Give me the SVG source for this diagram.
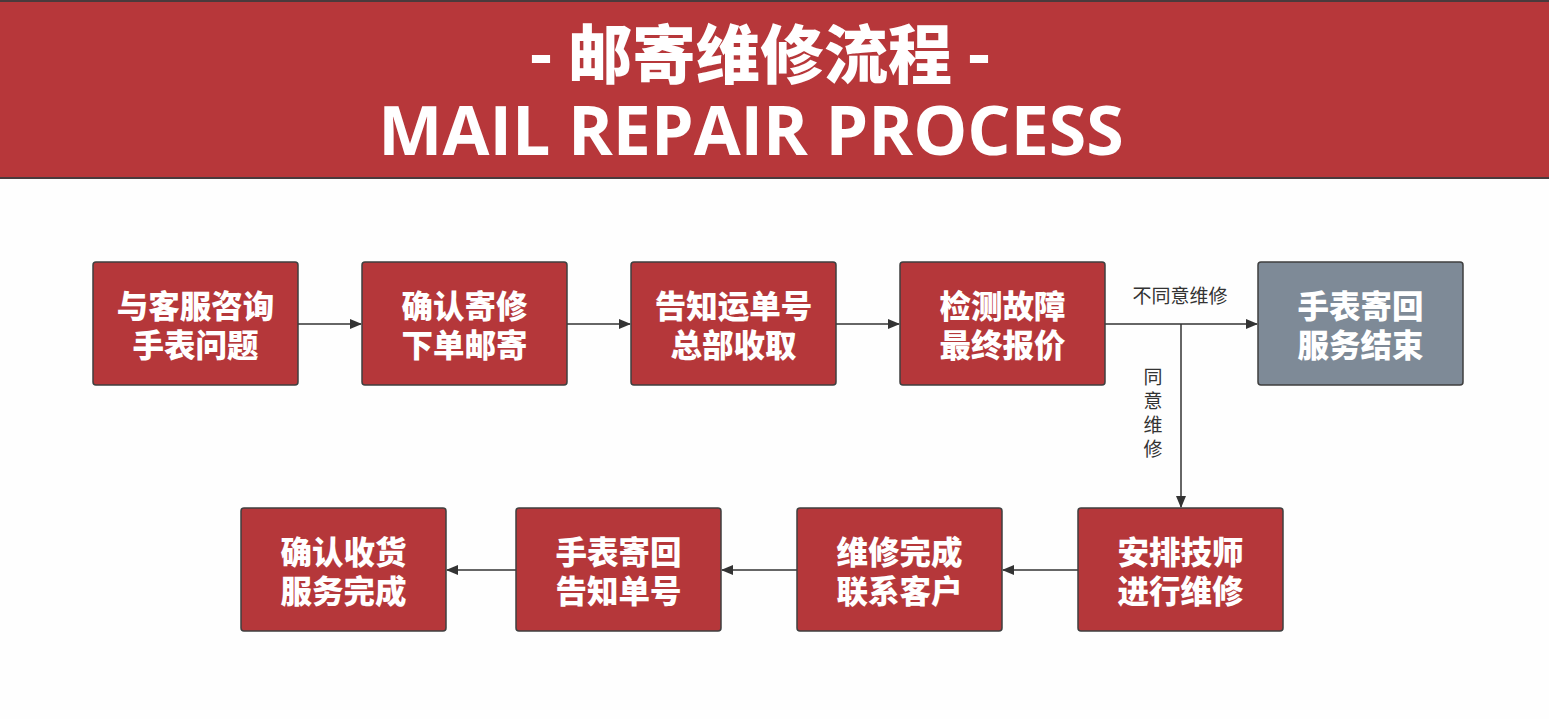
<svg xmlns="http://www.w3.org/2000/svg" width="1549" height="719" viewBox="0 0 1549 719">
<style>
.node{fill:#B5373A;stroke:#3F3F3F;stroke-width:1.5}
.gray{fill:#7E8A97;stroke:#3F3F3F;stroke-width:1.5}
.nt{fill:#FFFFFF;font-family:"Noto Sans CJK SC",sans-serif;font-weight:900;font-size:31.5px;text-anchor:middle}
.lbl{fill:#333333;font-family:"Noto Sans CJK SC",sans-serif;font-size:19px;text-anchor:middle}
.edge{fill:none;stroke:#333333;stroke-width:1.5}
</style>
<defs>
<marker id="arr" markerWidth="12" markerHeight="10" refX="11" refY="5" orient="auto" markerUnits="userSpaceOnUse">
<path d="M0,0 L12,5 L0,10 Z" fill="#333333"/>
</marker>
</defs>
<rect x="0" y="0" width="1549" height="719" fill="#FEFEFE"/>
<g id="header">
<rect x="-2" y="1" width="1553" height="177" fill="#B7373A" stroke="#4A3A3C" stroke-width="2"/>
<text x="760" y="78" fill="#FFFFFF" font-family="'Noto Sans CJK SC',sans-serif" font-weight="900" font-size="64" text-anchor="middle">- 邮寄维修流程 -</text>
<text x="751" y="155" fill="#FFFFFF" font-family="'Open Sans',sans-serif" font-weight="700" font-size="68" text-anchor="middle">MAIL REPAIR PROCESS</text>
</g>
<g id="connectors">
<line class="edge" x1="298" y1="324" x2="361" y2="324" marker-end="url(#arr)"/>
<line class="edge" x1="567" y1="324" x2="630" y2="324" marker-end="url(#arr)"/>
<line class="edge" x1="836" y1="324" x2="899" y2="324" marker-end="url(#arr)"/>
<line class="edge" x1="1105" y1="324" x2="1257" y2="324" marker-end="url(#arr)"/>
<line class="edge" x1="1181" y1="324" x2="1181" y2="507" marker-end="url(#arr)"/>
<line class="edge" x1="1078" y1="570" x2="1003" y2="570" marker-end="url(#arr)"/>
<line class="edge" x1="797" y1="570" x2="722" y2="570" marker-end="url(#arr)"/>
<line class="edge" x1="516" y1="570" x2="447" y2="570" marker-end="url(#arr)"/>
<text class="lbl" x="1180" y="303">不同意维修</text>
<text class="lbl" x="1153" y="384">同</text>
<text class="lbl" x="1153" y="408">意</text>
<text class="lbl" x="1153" y="432">维</text>
<text class="lbl" x="1153" y="456">修</text>
</g>
<g id="n1"><rect class="node" x="93" y="262" width="205" height="123" rx="3"/><text class="nt" x="195.5" y="318">与客服咨询</text><text class="nt" x="195.5" y="357">手表问题</text></g>
<g id="n2"><rect class="node" x="362" y="262" width="205" height="123" rx="3"/><text class="nt" x="464.5" y="318">确认寄修</text><text class="nt" x="464.5" y="357">下单邮寄</text></g>
<g id="n3"><rect class="node" x="631" y="262" width="205" height="123" rx="3"/><text class="nt" x="733.5" y="318">告知运单号</text><text class="nt" x="733.5" y="357">总部收取</text></g>
<g id="n4"><rect class="node" x="900" y="262" width="205" height="123" rx="3"/><text class="nt" x="1002.5" y="318">检测故障</text><text class="nt" x="1002.5" y="357">最终报价</text></g>
<g id="n5"><rect class="gray" x="1258" y="262" width="205" height="123" rx="3"/><text class="nt" x="1360.5" y="318">手表寄回</text><text class="nt" x="1360.5" y="357">服务结束</text></g>
<g id="n6"><rect class="node" x="1078" y="508" width="205" height="123" rx="3"/><text class="nt" x="1180.5" y="564">安排技师</text><text class="nt" x="1180.5" y="603">进行维修</text></g>
<g id="n7"><rect class="node" x="797" y="508" width="205" height="123" rx="3"/><text class="nt" x="899.5" y="564">维修完成</text><text class="nt" x="899.5" y="603">联系客户</text></g>
<g id="n8"><rect class="node" x="516" y="508" width="205" height="123" rx="3"/><text class="nt" x="618.5" y="564">手表寄回</text><text class="nt" x="618.5" y="603">告知单号</text></g>
<g id="n9"><rect class="node" x="241" y="508" width="205" height="123" rx="3"/><text class="nt" x="343.5" y="564">确认收货</text><text class="nt" x="343.5" y="603">服务完成</text></g>
</svg>
